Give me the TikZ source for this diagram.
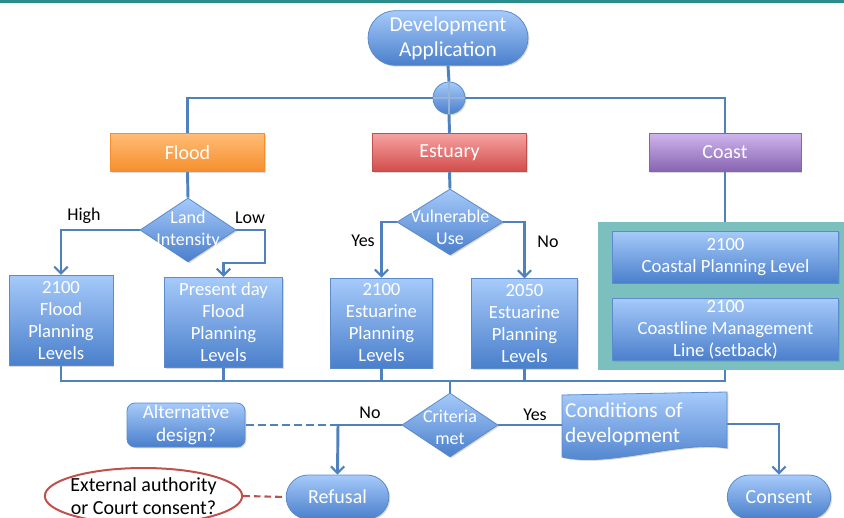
\documentclass[tikz,border=0pt]{standalone}
\usepackage{fontspec}
\setmainfont{Carlito}
\usepackage{xcolor}
\usetikzlibrary{arrows.meta, shapes.geometric, shapes.misc, shadows}

\definecolor{flowblue}{HTML}{4F81BD}
\definecolor{boxtop}{HTML}{A6CAFA}
\definecolor{boxbot}{HTML}{4A7FCB}
\definecolor{boxedge}{HTML}{5B8BCB}
\definecolor{floodtop}{HTML}{FFBD75}
\definecolor{floodbot}{HTML}{F58E2E}
\definecolor{esttop}{HTML}{F5A3A3}
\definecolor{estbot}{HTML}{D24C49}
\definecolor{coasttop}{HTML}{CFB5EC}
\definecolor{coastbot}{HTML}{8663B1}
\definecolor{panelteal}{HTML}{7CBFBF}
\definecolor{barteal}{HTML}{2B8C8C}
\definecolor{askred}{HTML}{C0504D}

\begin{document}
\begin{tikzpicture}[
  x=0.75pt, y=-0.75pt,
  >={Straight Barb[length=5pt,width=10pt,line width=1.6pt]},
  flow/.style={draw=flowblue, line width=2.2pt},
  soft/.style={drop shadow={opacity=0.3, shadow xshift=1pt, shadow yshift=-1pt}},
  box/.style={draw=boxedge, line width=0.6pt, top color=boxtop, bottom color=boxbot, text=white,
    align=center, font=\fontsize{14}{16.5}\selectfont, inner sep=1pt, soft},
  pill/.style={box, rounded rectangle, font=\fontsize{15}{18}\selectfont},
  header/.style={draw, line width=0.6pt, text=white, font=\fontsize{15}{18}\selectfont,
    minimum height=29pt, inner sep=1pt, soft},
  decision/.style={diamond, draw=boxedge, line width=0.6pt, top color=boxtop, bottom color=boxbot,
    inner sep=0pt, soft},
  dtext/.style={text=white, align=center, font=\fontsize{13.5}{16.5}\selectfont},
  tag/.style={font=\fontsize{13.5}{16}\selectfont, text=black}]
\useasboundingbox (0,0) rectangle (844,518);
\fill[barteal] (0,0) rectangle (844,3);

% start
\node[pill, minimum width=122pt, minimum height=41pt, font=\fontsize{16}{19}\selectfont] (dev) at (448,38) {Development\\Application};
\node[circle, draw=boxedge, line width=0.6pt, top color=boxtop, bottom color=boxbot, minimum size=24pt, inner sep=0pt, soft] (hub) at (449,98) {};

% categories
\node[header, draw=floodbot, top color=floodtop, bottom color=floodbot, minimum width=116pt] (flood) at (187.5,152.5) {Flood};
\node[header, draw=askred, top color=esttop, bottom color=estbot, minimum width=115pt] (est) at (449.5,152.5) {Estuary};
\node[header, draw=coastbot, top color=coasttop, bottom color=coastbot, minimum width=114pt] (coast) at (725,152.5) {Coast};

\draw[flow] (dev.south) -- (hub.north);
\draw[flow] (hub.west) -| (flood.north);
\draw[flow] (hub.east) -| (coast.north);
\draw[flow] (hub.south) -- (est.north);
\draw[flowblue!60!white, line width=0.8pt] (hub.north) -- (hub.south) (hub.west) -- (hub.east);

% flood branch
\node[decision, minimum width=72pt, minimum height=48pt, label={[dtext]center:Land\\Intensity}] (land) at (188,230) {};
\node[box, minimum width=78pt, minimum height=68pt] (fl2100) at (61,320.5) {2100\\Flood\\Planning\\Levels};
\node[box, minimum width=89pt, minimum height=68pt] (flnow) at (223.5,322.5) {Present day\\Flood\\Planning\\Levels};
\coordinate (lowbend) at (265,263);
\draw[flow] (flood.south) -- (land.north);
\draw[flow,->] (land.west) -| (fl2100.north);
\draw[flow,->] (land.east) -| (lowbend) -| (flnow.north);
\node[tag] (high) at (84,216) {High};
\node[tag] (low) at (250,218) {Low};

% estuary branch
\node[decision, minimum width=79.5pt, minimum height=49.5pt, label={[dtext, yshift=-4pt]center:Vulnerable\\Use}] (vuln) at (450,222) {};
\node[box, minimum width=77pt, minimum height=67.5pt] (es2100) at (381.5,323) {2100\\Estuarine\\Planning\\Levels};
\node[box, minimum width=79pt, minimum height=67pt] (es2050) at (524.5,323.5) {2050\\Estuarine\\Planning\\Levels};
\draw[flow] (est.south) -- (vuln.north);
\draw[flow,->] (vuln.west) -| (es2100.north);
\draw[flow,->] (vuln.east) -| (es2050.north);
\node[tag] (yes1) at (363,241) {Yes};
\node[tag] (no1) at (548,242) {No};

% coast branch
\node[fill=panelteal, minimum width=186pt, minimum height=111pt, inner sep=0pt] (panel) at (722,296) {};
\node[box, minimum width=170pt, minimum height=39pt] (cpl) at (725.5,257) {2100\\Coastal Planning Level};
\node[box, minimum width=170pt, minimum height=47pt] (cml) at (725.5,329.5) {2100\\Coastline Management\\Line (setback)};
\draw[flow] (coast.south) -- (coast.south |- panel.north);

% collect
\coordinate (busL) at (61,381);
\coordinate (busR) at (725,381);
\draw[flow] (fl2100.south) -- (busL) -- (busR) -- (busR |- panel.south);
\draw[flow] (flnow.south) -- (flnow.south |- busL);
\draw[flow] (es2100.south) -- (es2100.south |- busL);
\draw[flow] (es2050.south) -- (es2050.south |- busL);

% outcome
\node[decision, minimum width=72pt, minimum height=48pt, label={[dtext, yshift=-2pt]center:Criteria\\met}] (crit) at (450,425) {};
\draw[flow] (crit.north |- busL) -- (crit.north);
\node[box, rounded corners=6pt, minimum width=88.5pt, minimum height=33pt, font=\fontsize{14.5}{17}\selectfont] (alt) at (186,425) {Alternative\\design?};
\node[pill, minimum width=79pt, minimum height=33pt] (refusal) at (337.5,497) {Refusal};
\node[ellipse, draw=askred, line width=1.5pt, fill=white, minimum width=148pt, minimum height=42pt, inner xsep=-14pt, inner ysep=-6pt,
  align=center, font=\fontsize{15}{17.5}\selectfont] (extern) at (143.5,496) {External authority\\or Court consent?};
\node[pill, minimum width=79.5pt, minimum height=33pt] (consent) at (779,497) {Consent};
\node[minimum width=123.75pt, minimum height=45pt, inner sep=0pt] (cond) at (644.5,424) {};
\coordinate (nobend) at (338,425);
\draw[flow] (crit.west) -- (nobend);
\draw[flow,->] (nobend) -- (refusal.north);
\draw[flow, dash pattern=on 6pt off 3pt] (nobend) -- (alt.east);
\draw[askred, line width=1.6pt, dash pattern=on 5pt off 3pt] (extern.east) -- (refusal.west);
\draw[flow] (crit.east) -- (crit.east -| cond.west);
\draw[flow,->] (cond.east) -| (consent.north);
\draw[draw=boxedge, line width=0.6pt, top color=boxtop, bottom color=boxbot, soft]
  (562,395) -- (727,392) -- (727,448) .. controls (680,440) and (610,468) .. (562,457) -- cycle;
\node[text width=119pt, inner xsep=2.5pt, align=left, text=white,
  font=\fontsize{16}{18.5}\selectfont] (condtext) at (cond) {Conditions of\\development};
\node[tag] (no2) at (370,413) {No};
\node[tag] (yes2) at (535,415) {Yes};
\end{tikzpicture}
\end{document}
